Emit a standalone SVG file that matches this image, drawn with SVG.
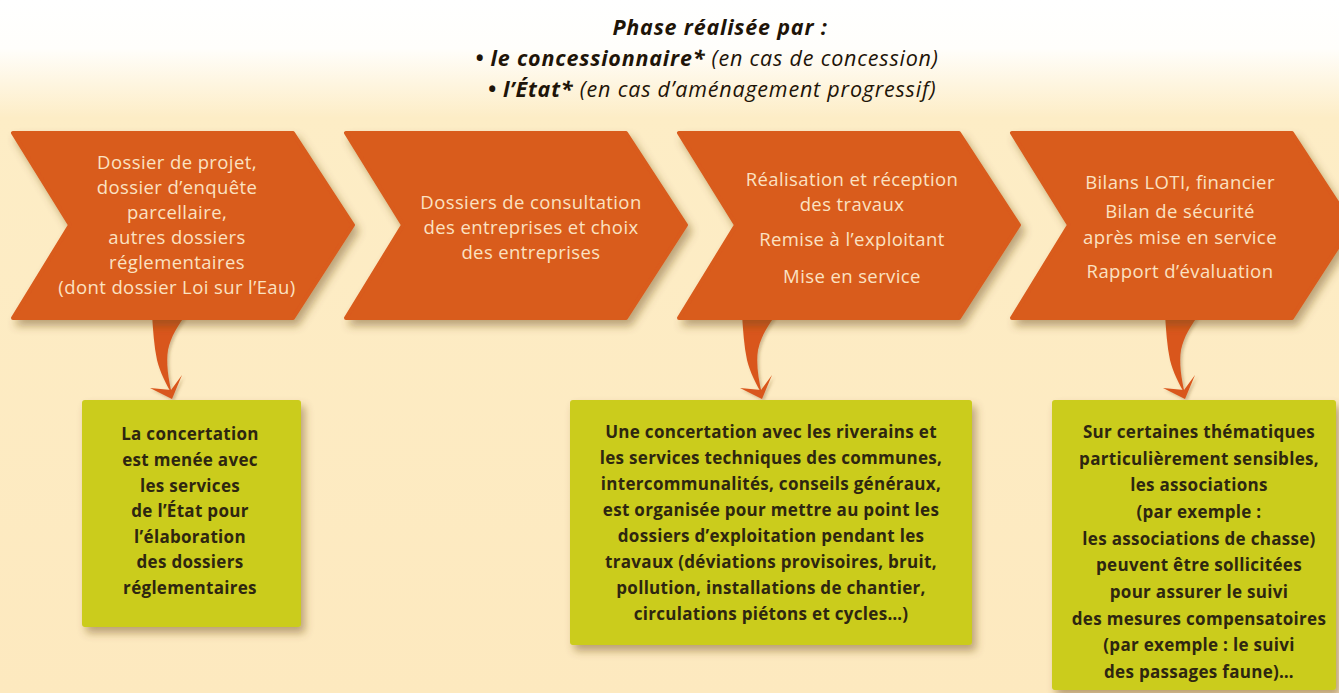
<svg xmlns="http://www.w3.org/2000/svg" width="1339" height="693" viewBox="0 0 1339 693">
<defs>
<linearGradient id="bg" x1="0" y1="0" x2="0" y2="1" gradientUnits="objectBoundingBox">
<stop offset="0" stop-color="#ffffff"/>
<stop offset="0.07" stop-color="#fffefb"/>
<stop offset="0.17" stop-color="#fdedc6"/>
<stop offset="1" stop-color="#fde9bf"/>
</linearGradient>
<filter id="sh" x="-10%" y="-10%" width="125%" height="130%">
<feDropShadow dx="4" dy="6" stdDeviation="4" flood-color="#6b4a1c" flood-opacity="0.45"/>
</filter>
<filter id="sha" x="-30%" y="-10%" width="160%" height="130%">
<feDropShadow dx="2" dy="2" stdDeviation="1.5" flood-color="#6b4a1c" flood-opacity="0.3"/>
</filter>
<path id="chev" d="M0,0 L280,0 L340,92 L280,185 L0,185 L57,92 Z"/>
<g id="arrow">
<path d="M152,314 L186,314 C178,326 171,336 168,350 C166,362 168,378 172,394 C166,384 160,372 157,360 C154,346 153,330 152,314 Z"/>
<path d="M150,388 L172,399 L182,375 L171,390 Z"/>
</g>
</defs>
<style>
.chev{fill:#d95b1d;stroke:#d95b1d;stroke-width:4;stroke-linejoin:round;filter:url(#sh)}
.box{fill:#cbcc1b;filter:url(#sh)}
.ct{font-family:"Open Sans","Liberation Sans",sans-serif;font-size:18.5px;fill:#fbe2c2;text-anchor:middle;letter-spacing:0.4px}
.bt{font-family:"Open Sans","Liberation Sans",sans-serif;font-size:17px;font-weight:700;fill:#2e2610;text-anchor:middle;letter-spacing:0.3px}
.tt{font-family:"Open Sans","Liberation Sans",sans-serif;font-size:21.5px;font-style:italic;fill:#1e1408;text-anchor:middle;letter-spacing:0.8px}
.arr{fill:#d9561c;filter:url(#sha)}
</style>
<rect x="0" y="0" width="1339" height="693" fill="url(#bg)"/>

<g id="title">
<text class="tt" x="720" y="35" font-weight="700">Phase réalisée par :</text>
<text class="tt" x="707" y="66"><tspan font-weight="700">• le concessionnaire*</tspan> (en cas de concession)</text>
<text class="tt" x="712" y="97"><tspan font-weight="700">• l’État*</tspan> (en cas d’aménagement progressif)</text>
</g>

<g id="connectors">
<use href="#arrow" class="arr"/>
<use href="#arrow" class="arr" transform="translate(590,0)"/>
<use href="#arrow" class="arr" transform="translate(1013,0)"/>
</g>

<g id="phase1">
<use href="#chev" class="chev" transform="translate(13,133)"/>
<text class="ct" x="177" y="169">Dossier de projet,</text>
<text class="ct" x="177" y="194">dossier d’enquête</text>
<text class="ct" x="177" y="219">parcellaire,</text>
<text class="ct" x="177" y="244">autres dossiers</text>
<text class="ct" x="177" y="269">réglementaires</text>
<text class="ct" x="177" y="294">(dont dossier Loi sur l’Eau)</text>
</g>

<g id="phase2">
<use href="#chev" class="chev" transform="translate(346,133)"/>
<text class="ct" x="531" y="209">Dossiers de consultation</text>
<text class="ct" x="531" y="234">des entreprises et choix</text>
<text class="ct" x="531" y="259">des entreprises</text>
</g>

<g id="phase3">
<use href="#chev" class="chev" transform="translate(679,133)"/>
<text class="ct" x="852" y="186">Réalisation et réception</text>
<text class="ct" x="852" y="211">des travaux</text>
<text class="ct" x="852" y="246">Remise à l’exploitant</text>
<text class="ct" x="852" y="283">Mise en service</text>
</g>

<g id="phase4">
<use href="#chev" class="chev" transform="translate(1012,133)"/>
<text class="ct" x="1180" y="189">Bilans LOTI, financier</text>
<text class="ct" x="1180" y="218">Bilan de sécurité</text>
<text class="ct" x="1180" y="244">après mise en service</text>
<text class="ct" x="1180" y="278">Rapport d’évaluation</text>
</g>

<g id="note1">
<rect class="box" x="82" y="400" width="219" height="227" rx="3"/>
<text class="bt" x="190" y="440">La concertation</text>
<text class="bt" x="190" y="466">est menée avec</text>
<text class="bt" x="190" y="492">les services</text>
<text class="bt" x="190" y="517">de l’État pour</text>
<text class="bt" x="190" y="543">l’élaboration</text>
<text class="bt" x="190" y="568">des dossiers</text>
<text class="bt" x="190" y="594">réglementaires</text>
</g>

<g id="note2">
<rect class="box" x="570" y="400" width="402" height="245" rx="3"/>
<text class="bt" x="771" y="438">Une concertation avec les riverains et</text>
<text class="bt" x="771" y="464">les services techniques des communes,</text>
<text class="bt" x="771" y="490">intercommunalités, conseils généraux,</text>
<text class="bt" x="771" y="516">est organisée pour mettre au point les</text>
<text class="bt" x="771" y="542">dossiers d’exploitation pendant les</text>
<text class="bt" x="771" y="568">travaux (déviations provisoires, bruit,</text>
<text class="bt" x="771" y="594">pollution, installations de chantier,</text>
<text class="bt" x="771" y="620">circulations piétons et cycles…)</text>
</g>

<g id="note3">
<rect class="box" x="1052" y="400" width="284" height="290" rx="3"/>
<text class="bt" x="1199" y="438">Sur certaines thématiques</text>
<text class="bt" x="1199" y="465">particulièrement sensibles,</text>
<text class="bt" x="1199" y="491">les associations</text>
<text class="bt" x="1199" y="518">(par exemple :</text>
<text class="bt" x="1199" y="545">les associations de chasse)</text>
<text class="bt" x="1199" y="571">peuvent être sollicitées</text>
<text class="bt" x="1199" y="598">pour assurer le suivi</text>
<text class="bt" x="1199" y="625">des mesures compensatoires</text>
<text class="bt" x="1199" y="651">(par exemple : le suivi</text>
<text class="bt" x="1199" y="678">des passages faune)…</text>
</g>
</svg>
